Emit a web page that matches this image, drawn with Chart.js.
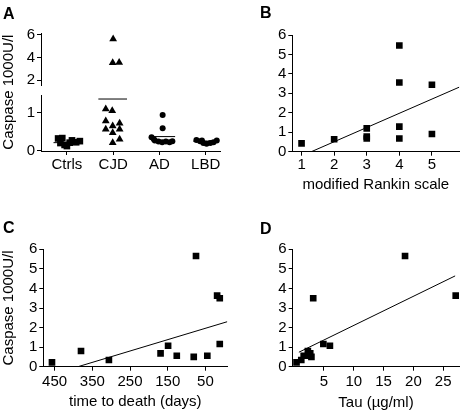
<!DOCTYPE html>
<html>
<head>
<meta charset="utf-8">
<script src="https://cdn.jsdelivr.net/npm/chart.js@4.4.0/dist/chart.umd.min.js"></script>
<style>
  body { margin: 0; background: #fff; }
  #wrap { position: relative; width: 464px; height: 412px; overflow: hidden; }
  canvas { position: absolute; }
  .tag { position: absolute; font: bold 16px "Liberation Sans", Arial, sans-serif; line-height: 16px; color: #000; }
</style>
</head>
<body>
<div id="wrap">
  <canvas id="chartA" width="232" height="206" style="left:0;top:0"></canvas>
  <canvas id="chartB" width="232" height="206" style="left:232px;top:0"></canvas>
  <canvas id="chartC" width="232" height="206" style="left:0;top:206px"></canvas>
  <canvas id="chartD" width="232" height="206" style="left:232px;top:206px"></canvas>
  <div class="tag" style="left:3px;top:6px">A</div>
  <div class="tag" style="left:260px;top:5px">B</div>
  <div class="tag" style="left:3px;top:220px">C</div>
  <div class="tag" style="left:260px;top:221px">D</div>
</div>
<script>
// Panel A: caspase by diagnosis group (x = jittered group position)
const groupLabels = ["Ctrls", "CJD", "AD", "LBD"];
const ctrlsX = [0.81, 0.90, 0.86, 0.95, 1.00, 1.06, 1.11, 1.20, 1.28];
const ctrlsY = [0.32, 0.33, 0.20, 0.15, 0.12, 0.21, 0.27, 0.22, 0.25];
const cjdX = [2.00, 1.99, 2.13, 1.84, 1.98, 1.84, 1.99, 2.14, 1.84, 1.99, 2.14, 1.99, 2.14];
const cjdY = [5.65, 3.55, 3.58, 1.10, 1.05, 0.78, 0.65, 0.72, 0.56, 0.47, 0.56, 0.21, 0.30];
const adX = [3.07, 3.07, 2.83, 2.90, 2.98, 3.06, 3.14, 3.22, 3.28, 2.88];
const adY = [0.94, 0.59, 0.35, 0.27, 0.24, 0.22, 0.24, 0.22, 0.25, 0.30];
const lbdX = [3.80, 3.88, 3.95, 4.02, 4.10, 4.17, 4.24, 3.92];
const lbdY = [0.28, 0.25, 0.20, 0.18, 0.20, 0.22, 0.27, 0.27];
const meanY = [0.21, 1.36, 0.37, 0.25];
const meanFrom = [0.71, 1.68, 2.80, 3.73];
const meanTo = [1.32, 2.30, 3.34, 4.25];

// Panel B: modified Rankin scale
const rankinX = [1, 2, 3, 3, 3, 4, 4, 4, 4, 5, 5];
const rankinY = [0.43, 0.64, 1.20, 0.78, 0.68, 5.46, 3.56, 1.29, 0.68, 3.44, 0.91];
const rankinFitX = [1.3, 5.84];
const rankinFitY = [0, 3.32];

// Panel C: time to death (days)
const daysX = [457, 380, 306, 169, 149, 126, 81, 75, 45, 19, 12, 12];
const daysY = [0.22, 0.80, 0.34, 0.68, 1.07, 0.56, 0.50, 5.66, 0.56, 3.63, 3.50, 1.16];
const daysFitX = [388, -8];
const daysFitY = [0, 2.3];

// Panel D: Tau (ug/ml)
const tauX = [18.6, 27.1, 3.2, 4.9, 6.0, 0.4, 1.2, 2.9, 1.6, 2.7, 2.3, 2.5];
const tauY = [5.66, 3.63, 3.50, 1.16, 1.07, 0.22, 0.34, 0.50, 0.56, 0.68, 0.80, 0.56];
const tauFitX = [0.8, 27.0];
const tauFitY = [0.74, 4.64];

Chart.defaults.font.family = "'Liberation Sans', Arial, Helvetica, sans-serif";
Chart.defaults.font.size = 15;
Chart.defaults.color = "#000";
Chart.defaults.animation = false;
Chart.defaults.plugins.legend.display = false;
Chart.defaults.plugins.tooltip.enabled = false;

function pts(xs, ys) {
    return xs.map((x, i) => ({ x: x, y: ys[i] }));
}

function marks(xs, ys, style, radius, axisId) {
    return {
        data: pts(xs, ys),
        yAxisID: axisId,
        pointStyle: style,
        pointRadius: radius,
        pointBackgroundColor: "#000",
        pointBorderWidth: 0,
        showLine: false,
    };
}

function fitLine(data, axisId) {
    return {
        data: data,
        yAxisID: axisId,
        showLine: true,
        spanGaps: false,
        borderColor: "#000",
        borderWidth: 1,
        pointRadius: 0,
    };
}

// axis with fixed ticks and a fixed thickness so the plot area lands where it should
function axis(o) {
    return {
        type: "linear",
        position: o.position,
        min: o.min,
        max: o.max,
        reverse: !!o.reverse,
        bounds: "data",
        stack: o.stack,
        stackWeight: o.weight,
        afterBuildTicks: (s) => { s.ticks = o.ticks.map((v) => ({ value: v })); },
        afterFit: (s) => {
            if (o.position === "bottom") s.height = o.size;
            else s.width = o.size;
        },
        border: { display: true, color: "#000", width: 1 },
        grid: { drawOnChartArea: false, drawTicks: true, tickLength: 4, color: "#000" },
        ticks: {
            padding: o.pad === undefined ? 2 : o.pad,
            autoSkip: false,
            maxRotation: 0,
            callback: o.label || ((v) => String(v)),
        },
        title: o.title
            ? { display: true, text: o.title, padding: 0, font: { size: 15 } }
            : { display: false },
    };
}

function blankAxis(o) {
    return {
        type: "linear",
        position: "left",
        min: 0,
        max: 1,
        stack: o.stack,
        stackWeight: o.weight,
        afterFit: (s) => { s.width = o.size; },
        border: { display: false },
        grid: { display: false },
        ticks: { display: false },
        title: o.title
            ? { display: true, text: o.title, padding: 0, font: { size: 15 } }
            : { display: false },
    };
}

// ---- A ----
const cjdHighX = cjdX.filter((x, i) => cjdY[i] > 1.5);
const cjdHighY = cjdY.filter((v) => v > 1.5);
const cjdLowX = cjdX.filter((x, i) => cjdY[i] <= 1.5);
const cjdLowY = cjdY.filter((v) => v <= 1.5);

const meanData = [];
meanY.forEach((m, i) => {
    meanData.push({ x: meanFrom[i], y: m });
    meanData.push({ x: meanTo[i], y: m });
    meanData.push({ x: meanTo[i] + 0.01, y: null });
});

new Chart(document.getElementById("chartA"), {
    type: "scatter",
    data: {
        datasets: [
            marks(ctrlsX, ctrlsY, "rect", 4.7, "yLow"),
            marks(cjdLowX, cjdLowY, "triangle", 4.5, "yLow"),
            marks(cjdHighX, cjdHighY, "triangle", 4.5, "yUp"),
            marks(adX, adY, "circle", 3, "yLow"),
            marks(lbdX, lbdY, "circle", 3, "yLow"),
            fitLine(meanData, "yLow"),
        ],
    },
    options: {
        responsive: false,
        layout: { padding: { left: 0, top: 33.3, right: 12, bottom: 25 } },
        scales: {
            x: axis({ position: "bottom", min: 0.44, max: 4.31, ticks: [1, 2, 3, 4], size: 30, pad: 1,
                label: (v) => groupLabels[v - 1] }),
            yLow: axis({ position: "left", min: -0.01, max: 1.466, ticks: [0, 1], size: 23, stack: "a", weight: 56 }),
            yGap: blankAxis({ size: 23, stack: "a", weight: 10 }),
            yUp: axis({ position: "left", min: 1.585, max: 6.15, ticks: [2, 4, 6], size: 23, stack: "a", weight: 51.7 }),
            yTitle: blankAxis({ size: 18, title: "Caspase 1000U/l" }),
        },
    },
});

// ---- B ----
new Chart(document.getElementById("chartB"), {
    type: "scatter",
    data: {
        datasets: [
            marks(rankinX, rankinY, "rect", 4.7, "y"),
            fitLine(pts(rankinFitX, rankinFitY), "y"),
        ],
    },
    options: {
        responsive: false,
        layout: { padding: { left: 30.3, top: 35, right: 2, bottom: 12 } },
        scales: {
            x: axis({ position: "bottom", min: 0.716, max: 5.84, ticks: [1, 2, 3, 4, 5], size: 42.3, pad: 0,
                title: "modified Rankin scale" }),
            y: axis({ position: "left", min: 0, max: 6, ticks: [0, 1, 2, 3, 4, 5, 6], size: 30 }),
        },
    },
});

// ---- C ----
new Chart(document.getElementById("chartC"), {
    type: "scatter",
    data: {
        datasets: [
            marks(daysX, daysY, "rect", 4.7, "y"),
            fitLine(pts(daysFitX, daysFitY), "y"),
        ],
    },
    options: {
        responsive: false,
        layout: { padding: { left: 0, top: 43.3, right: 2, bottom: 0.7 } },
        scales: {
            x: axis({ position: "bottom", min: -8, max: 480, reverse: true, ticks: [450, 350, 250, 150, 50],
                size: 44.6, pad: 2, title: "time to death (days)" }),
            y: axis({ position: "left", min: 0, max: 6, ticks: [0, 1, 2, 3, 4, 5, 6], size: 43.3,
                title: "Caspase 1000U/l" }),
        },
    },
});

// ---- D ----
new Chart(document.getElementById("chartD"), {
    type: "scatter",
    data: {
        datasets: [
            marks(tauX, tauY, "rect", 4.7, "y"),
            fitLine(pts(tauFitX, tauFitY), "y"),
        ],
    },
    options: {
        responsive: false,
        layout: { padding: { left: 30.7, top: 43.3, right: 2, bottom: 0.3 } },
        scales: {
            x: axis({ position: "bottom", min: -0.24, max: 27.7, ticks: [5, 10, 15, 20, 25], size: 45, pad: 2,
                title: "Tau (µg/ml)" }),
            y: axis({ position: "left", min: 0, max: 6, ticks: [0, 1, 2, 3, 4, 5, 6], size: 30 }),
        },
    },
});
</script>
</body>
</html>
